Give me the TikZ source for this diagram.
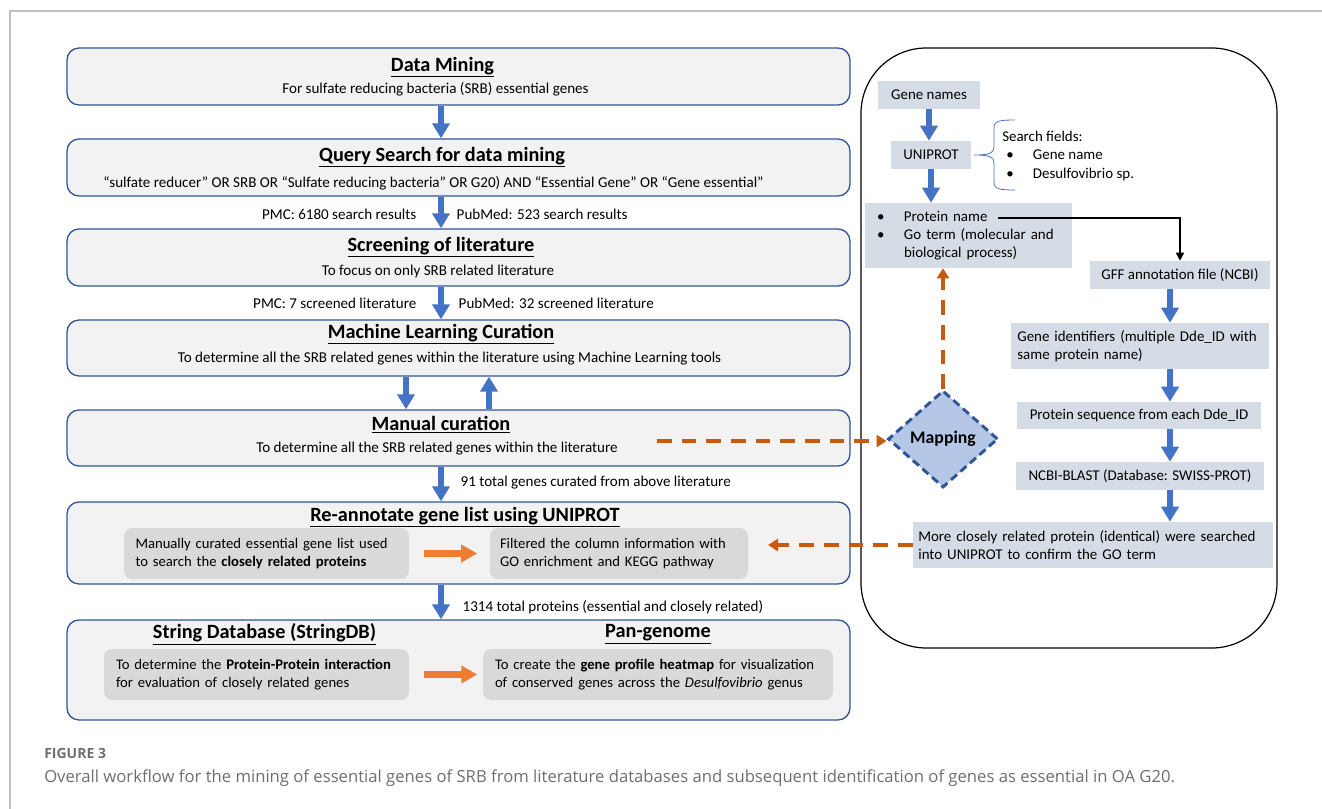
\documentclass[tikz,border=0pt]{standalone}
\usepackage{fontspec}
\setmainfont{Carlito}
\newfontfamily\capfont{Open Sans}
\usetikzlibrary{arrows.meta,shapes.geometric,fit}

\definecolor{stageedge}{HTML}{2F5597}
\definecolor{stagefill}{HTML}{F2F2F2}
\definecolor{innerfill}{HTML}{D9D9D9}
\definecolor{flowblue}{HTML}{4472C4}
\definecolor{rfill}{HTML}{D6DCE5}
\definecolor{pushorange}{HTML}{ED7D31}
\definecolor{linkorange}{HTML}{C55A11}
\definecolor{mapfill}{HTML}{B4C7E7}
\definecolor{capgray}{HTML}{6E6E6E}
\definecolor{framegray}{HTML}{BFBFBF}

\tikzset{
  stage/.style={draw=stageedge, fill=stagefill, line width=1pt, rounded corners=9pt, inner sep=0pt},
  stagetitle/.style={font=\fontsize{15.2}{17}\selectfont\bfseries},
  stagetext/.style={font=\fontsize{11.3}{13.5}\selectfont},
  note/.style={font=\fontsize{11.3}{13.5}\selectfont},
  inner/.style={fill=innerfill, rounded corners=6pt, align=left, inner ysep=0pt,
    minimum height=38.25pt, font=\fontsize{11}{13.5}\selectfont},
  rbox/.style={fill=rfill, inner sep=0pt, font=\fontsize{11.2}{13.5}\selectfont},
  panel/.style={draw=black, line width=0.9pt, rounded corners=49pt, inner sep=0pt},
  mapbox/.style={diamond, draw=stageedge, fill=mapfill, line width=2.2pt,
    dash pattern=on 6pt off 3.5pt, inner sep=0pt, font=\fontsize{13.3}{15}\selectfont\bfseries},
  flow/.style={draw=flowblue, line width=4.9pt, -{Triangle[width=12.75pt,length=11.25pt]}},
  push/.style={draw=pushorange, line width=4.9pt, -{Triangle[width=12.75pt,length=12pt]}},
  link/.style={draw=linkorange, line width=3pt, dash pattern=on 11pt off 7.5pt,
    -{Triangle[width=9pt,length=7.5pt]}},
  tie/.style={draw=black, line width=1.1pt, -{Triangle[width=6pt,length=6pt]}},
}

\begin{document}
\begin{tikzpicture}[x=0.75pt, y=-0.75pt]
 \useasboundingbox (0,0) rectangle (1322,809);
 \draw[framegray, line width=1.1pt] (1322,11) -- (10,11) -- (10,809);

 % left column
 \node[stage, fit={(67,48)(850,105)}] (dm) {};
 \node[stagetitle] (dmt) at (442.5,67) {\underline{Data Mining}};
 \node[stagetext]  (dmx) at (435.5,89) {For sulfate reducing bacteria (SRB) essential genes};

 \node[stage, fit={(67,139)(850,196)}] (qs) {};
 \node[stagetitle] (qst) at (442,157) {\underline{Query Search for data mining}};
 \node[stagetext]  (qsx) at (433.5,183) {“sulfate reducer” OR SRB OR “Sulfate reducing bacteria” OR G20) AND “Essential Gene” OR “Gene essential”};

 \node[stage, fit={(67,229)(850,286)}] (sl) {};
 \node[stagetitle] (slt) at (441,247) {\underline{Screening of literature}};
 \node[stagetext]  (slx) at (438,271) {To focus on only SRB related literature};

 \node[stage, fit={(67,320)(850,376)}] (ml) {};
 \node[stagetitle] (mlt) at (441,334) {\underline{Machine Learning Curation}};
 \node[stagetext]  (mlx) at (449.5,359) {To determine all the SRB related genes within the literature using Machine Learning tools};

 \node[stage, fit={(67,410)(850,466)}] (mc) {};
 \node[stagetitle] (mct) at (441,425) {\underline{Manual curation}};
 \node[stagetext]  (mcx) at (437,449) {To determine all the SRB related genes within the literature};

 \node[stage, fit={(67,502)(850,584)}] (ra) {};
 \node[stagetitle] (rat) at (465,517) {\underline{Re-annotate gene list using UNIPROT}};
 \node[inner, text width=196.5pt, inner xsep=8.6pt] (ra1) at (266.5,553.5)
   {Manually curated essential gene list used\\to search the \textbf{closely related proteins}};
 \node[inner, text width=178.5pt, inner xsep=7.5pt] (ra2) at (619,553.5)
   {Filtered the column information with\\GO enrichment and KEGG pathway};

 \node[stage, fit={(67,620)(850,720)}] (sd) {};
 \node[stagetitle] (sdt) at (264.5,634) {\underline{String Database (StringDB)}};
 \node[stagetitle] (pgt) at (658,634) {\underline{Pan-genome}};
 \node[inner, text width=210.75pt, inner xsep=9pt] (sd1) at (256.5,674.5)
   {To determine the \textbf{Protein-Protein interaction}\\for evaluation of closely related genes};
 \node[inner, text width=244.5pt, inner xsep=9pt] (sd2) at (658,674.5)
   {To create the \textbf{gene profile heatmap} for visualization\\of conserved genes across the \textit{Desulfovibrio} genus};

 \coordinate (ax) at (441,0);
 \coordinate (down) at (406,0);
 \coordinate (up) at (489,0);
 \draw[flow] (dm.south -| ax) -- (qs.north -| ax);
 \draw[flow] (qs.south -| ax) -- (sl.north -| ax);
 \draw[flow] (sl.south -| ax) -- (ml.north -| ax);
 \draw[flow] (ml.south -| down) -- (mc.north -| down);
 \draw[flow] (mc.north -| up) -- (ml.south -| up);
 \draw[flow] (mc.south -| ax) -- (ra.north -| ax);
 \draw[flow] (ra.south -| ax) -- (sd.north -| ax);
 \draw[push] (ra1.east) ++(15,0) -- ++(53,0);
 \draw[push] (sd1.east) ++(15,0) -- ++(53,0);

 \node[note, anchor=east] (pmc1) at (421,214) {PMC: 6180 search results};
 \node[note, anchor=west] (pub1) at (452,214) {PubMed: 523 search results};
 \node[note, anchor=east] (pmc2) at (421,303) {PMC: 7 screened literature};
 \node[note, anchor=west] (pub2) at (454,303) {PubMed: 32 screened literature};
 \node[note, anchor=west] (cur)  at (456,483) {91 total genes curated from above literature};
 \node[note, anchor=west] (tot)  at (458,607) {1314 total proteins (essential and closely related)};

 % right panel
 \node[panel, fit={(861,48)(1277,648)}] (rp) {};
 \node[rbox, minimum width=76.5pt, minimum height=21pt] (gn) at (929,95) {Gene names};
 \node[rbox, minimum width=60pt, minimum height=21pt] (un) at (931,155) {UNIPROT};
 \node[note, font=\fontsize{11.2}{13.9}\selectfont, anchor=north west, align=left, inner sep=0pt] (sf) at (1002,128)
   {\begin{tabular}{@{}p{23pt}@{}l@{}}
    \multicolumn{2}{@{}l@{}}{Search fields:}\\
    \hspace{3pt}\textbullet & Gene name\\
    \hspace{3pt}\textbullet & Desulfovibrio sp.
    \end{tabular}};
 \draw[flowblue, line width=0.6pt] (1015,120) .. controls (999,120) and (994,121) .. (994,128)
   -- (994,147) .. controls (994,153) and (990,155) .. (974,155)
   .. controls (990,155) and (994,157) .. (994,163)
   -- (994,182) .. controls (994,189) and (999,190) .. (1015,190);
 \node[rbox, minimum width=150.75pt, minimum height=48.75pt, text width=137.25pt,
   inner xsep=9pt, align=left] (pn) at (968.5,235.5)
   {\begin{tabular}{@{}p{20.25pt}@{}l@{}}
    \textbullet & Protein name\\
    \textbullet & Go term (molecular and\\
    & biological process)
    \end{tabular}};
 \node[rbox, minimum width=135pt, minimum height=21pt] (gff) at (1180,275) {GFF annotation file (NCBI)};
 \node[rbox, minimum width=193.5pt, minimum height=34.5pt, text width=184pt,
   inner xsep=4.75pt, align=left] (gid) at (1140,346)
   {Gene identifiers (multiple Dde\_ID with\\same protein name)};
 \node[rbox, minimum width=183pt, minimum height=20.25pt] (ps) at (1139,415.5) {Protein sequence from each Dde\_ID};
 \node[rbox, minimum width=186pt, minimum height=21pt] (nb) at (1140,476) {NCBI-BLAST (Database: SWISS-PROT)};
 \node[rbox, minimum width=270pt, minimum height=34.5pt, text width=262pt,
   inner xsep=4pt, align=left] (mr) at (1093,545)
   {More closely related protein (identical) were searched\\into UNIPROT to confirm the GO term};
 \node[mapbox, minimum width=82.5pt, minimum height=72.75pt] (map) at (943,439) {Mapping};

 \coordinate (rx) at (1170,0);
 \draw[flow] (gn) -- (gn |- un.north);
 \draw[flow] (un) -- (un |- pn.north);
 \draw[flow] (gff.south -| rx) -- (gid.north -| rx);
 \draw[flow] (gid.south -| rx) -- (ps.north -| rx);
 \draw[flow] (ps.south -| rx) -- (nb.north -| rx);
 \draw[flow] (nb.south -| rx) -- (mr.north -| rx);

 \coordinate (pnout) at (998,218);
 \draw[tie] (pnout) -| (gff.north);
 \coordinate (mcout) at (657,441);
 \coordinate (raend) at (768,0);
 \draw[link] (mcout) -- (mcout -| map.west);
 \draw[link] (map.north) -- (map.north |- pn.south);
 \draw[link] (mr.west) -- (mr.west -| raend);

 % caption
 \node[anchor=base west, inner sep=0pt, text=capgray, font=\capfont\bfseries\fontsize{10.5}{12}\selectfont] (fig) at (44,758) {FIGURE 3};
 \node[anchor=base west, inner sep=0pt, text=capgray, font=\capfont\fontsize{12.5}{15}\selectfont] (cap) at (44,782)
   {Overall workflow for the mining of essential genes of SRB from literature databases and subsequent identification of genes as essential in OA G20.};
\end{tikzpicture}
\end{document}
